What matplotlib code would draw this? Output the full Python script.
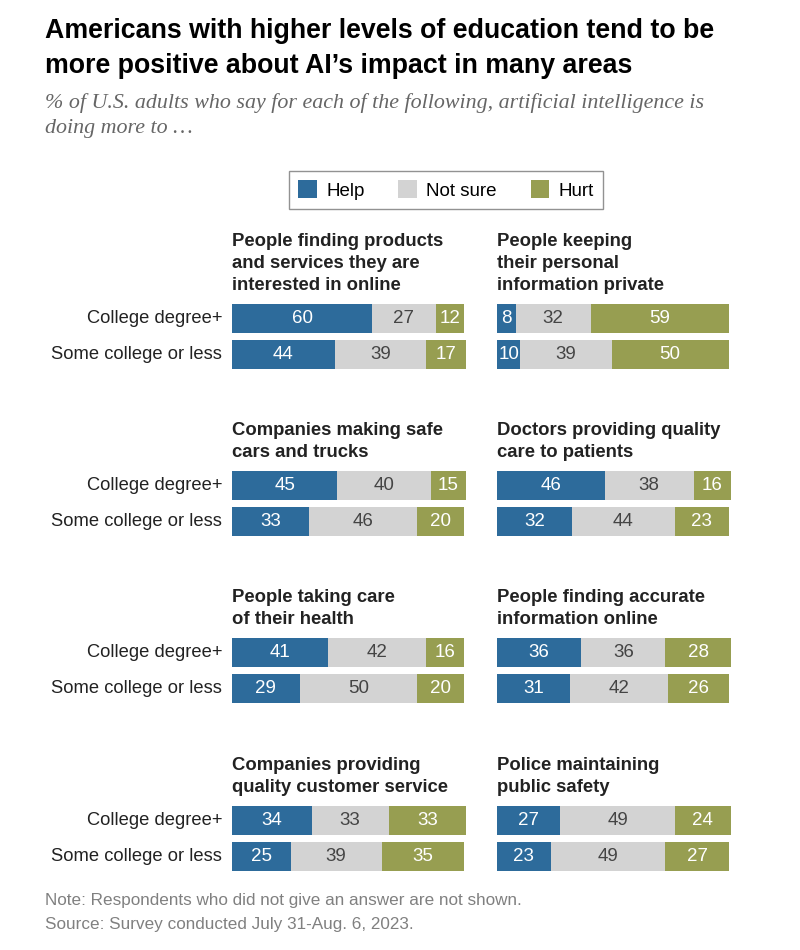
import matplotlib.pyplot as plt

# data
topics = [
    "People finding products\nand services they are\ninterested in online",
    "People keeping\ntheir personal\ninformation private",
    "Companies making safe\ncars and trucks",
    "Doctors providing quality\ncare to patients",
    "People taking care\nof their health",
    "People finding accurate\ninformation online",
    "Companies providing\nquality customer service",
    "Police maintaining\npublic safety",
]
groups = ["College degree+", "Some college or less"]
series = ["Help", "Not sure", "Hurt"]

help_college = [60, 8, 45, 46, 41, 36, 34, 27]
notsure_college = [27, 32, 40, 38, 42, 36, 33, 49]
hurt_college = [12, 59, 15, 16, 16, 28, 33, 24]
help_some = [44, 10, 33, 32, 29, 31, 25, 23]
notsure_some = [39, 39, 46, 44, 50, 42, 39, 49]
hurt_some = [17, 50, 20, 23, 20, 26, 35, 27]

colors = ["#2d6b9b", "#d3d3d3", "#979e51"]
label_colors = ["white", "#444444", "white"]

W, H = 800, 950
body = "Liberation Sans"


def fx(x):
    return x / W


def fy(y):
    return 1 - y / H


fig = plt.figure(figsize=(W / 100, H / 100), dpi=100)
fig.patch.set_facecolor("white")

# title and subtitle
fig.text(fx(45), fy(31), "Americans with higher levels of education tend to be",
         fontsize=19.3, fontweight="bold", family=body, va="center")
fig.text(fx(45), fy(66), "more positive about AI\u2019s impact in many areas",
         fontsize=19.3, fontweight="bold", family=body, va="center")
fig.text(fx(45), fy(103), "% of U.S. adults who say for each of the following, artificial intelligence is",
         fontsize=15.8, style="italic", family="Liberation Serif", color="#666666", va="center")
fig.text(fx(45), fy(129), "doing more to \u2026",
         fontsize=15.8, style="italic", family="Liberation Serif", color="#666666", va="center")

col_x = [232, 497]
row_top = [304, 471, 638, 806]
bar_w = 234

handles = None
for i in range(8):
    r, c = i // 2, i % 2
    x0, y0 = col_x[c], row_top[r]
    ax = fig.add_axes([fx(x0), fy(y0 + 65), bar_w / W, 65 / H])
    vals = [[help_college[i], help_some[i]],
            [notsure_college[i], notsure_some[i]],
            [hurt_college[i], hurt_some[i]]]
    left = [0, 0]
    bars = []
    for k in range(3):
        b = ax.barh([0, 1], vals[k], left=left, height=29 / 36, color=colors[k],
                    label=series[k])
        bars.append(b)
        for j in range(2):
            ax.text(left[j] + vals[k][j] / 2, j, str(vals[k][j]), ha="center", va="center",
                    fontsize=13.5, color=label_colors[k], family=body)
        left = [left[j] + vals[k][j] for j in range(2)]
    handles = bars
    ax.set_xlim(0, 100)
    ax.set_ylim(1 + 29 / 72, -29 / 72)
    ax.axis("off")

    # panel heading
    fig.text(fx(x0), fy(y0 - 10), topics[i], fontsize=13.3, fontweight="bold",
             family=body, color="#222222", va="bottom", linespacing=1.4)

    if c == 0:
        for j in range(2):
            fig.text(fx(222), fy(y0 + 14.5 + 36 * j), groups[j], ha="right", va="center",
                     fontsize=13.2, family=body, color="#222222")

leg = fig.legend(handles, series, loc="center", bbox_to_anchor=(fx(446), fy(190)),
                 ncol=3, frameon=True, fancybox=False, edgecolor="#777777",
                 prop={"family": body, "size": 13.5}, handlelength=1.0, handleheight=1.1,
                 columnspacing=1.8, handletextpad=0.5, borderpad=0.5)
leg.get_frame().set_linewidth(1.0)

fig.text(fx(45), fy(900), "Note: Respondents who did not give an answer are not shown.",
         fontsize=12.3, family=body, color="#808080", va="center")
fig.text(fx(45), fy(925), "Source: Survey conducted July 31-Aug. 6, 2023.",
         fontsize=12.3, family=body, color="#808080", va="center")

fig.savefig("out.png", dpi=100, facecolor="white")
